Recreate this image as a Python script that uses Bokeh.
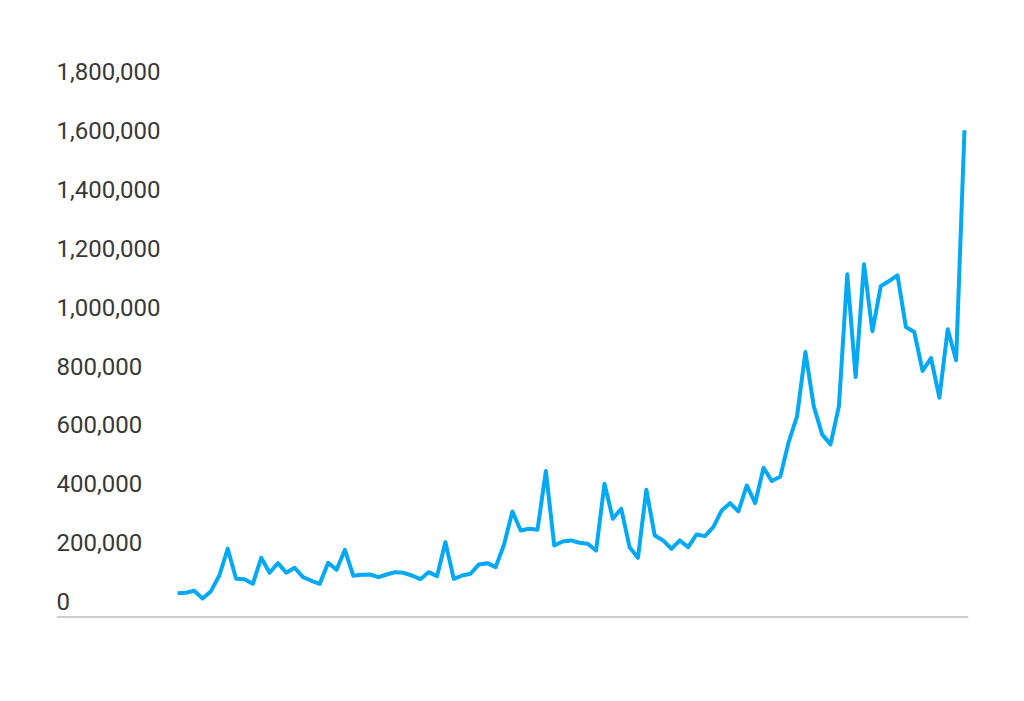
from bokeh.plotting import figure
from bokeh.models import Range1d, Span
from bokeh.core.properties import value
from bokeh.embed import file_html
from bokeh.resources import INLINE

# monthly series
values = [
    82600, 84000, 90800, 64600, 89500, 142800, 233600, 131600, 130300, 114600,
    203000, 152000, 184700, 152000, 169000, 137100, 124800, 114600, 186000, 162200,
    230200, 141800, 145200, 146200, 137100, 146200, 154100, 152000, 142800, 130300,
    154100, 140500, 256100, 131600, 142800, 148600, 180300, 184700, 171100, 247200,
    360500, 295900, 301700, 298300, 497600, 244900, 258500, 261900, 254000, 250700,
    227900, 454700, 335700, 369700, 239100, 203000, 434300, 278900, 261900, 233600,
    261900, 239100, 282300, 276500, 307100, 363900, 388700, 360500, 448900, 388700,
    509100, 463600, 479500, 596200, 683600, 902300, 717600, 622400, 588400, 718000,
    1166500, 817300, 1200600, 972700, 1125700, 1143800, 1163100, 987300, 970300, 837700,
    881900, 747200, 979500, 874100, 1656300,
]
x = list(range(len(values)))

tick_values = [0, 200000, 400000, 600000, 800000, 1000000, 1200000, 1400000, 1600000, 1800000]
tick_labels = ["{:,}".format(v) for v in tick_values]

x_start = -14.45
p = figure(width=1008, height=685, output_backend="svg", toolbar_location=None,
           x_range=Range1d(x_start, 94.48), y_range=Range1d(0, 1900000),
           x_axis_type=None, y_axis_type=None,
           min_border_left=56, min_border_right=40,
           min_border_top=58, min_border_bottom=68)
p.outline_line_color = None
p.grid.visible = False
p.background_fill_color = "white"
p.border_fill_color = "white"

# baseline
p.add_layout(Span(location=0, dimension="width", line_color="#9e9e9e", line_width=2))

# labels sit above their (hidden) gridlines
p.text(x=[x_start] * len(tick_values), y=tick_values, text=tick_labels,
       text_font=value("Roboto"), text_font_size="24px", text_color="#383838",
       text_align="left", text_baseline="alphabetic", x_offset=0, y_offset=-16)

p.line(x, values, line_color="#03a9f4", line_width=4, line_join="round")

open("out.html", "w").write(file_html(p, INLINE))
